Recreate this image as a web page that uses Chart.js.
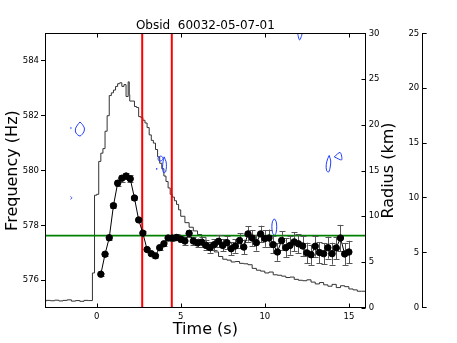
<!DOCTYPE html>
<html><head><meta charset="utf-8">
<script src="https://cdn.jsdelivr.net/npm/chart.js@4/dist/chart.umd.min.js"></script>
<style>html,body{margin:0;padding:0;background:#fff;overflow:hidden}</style>
</head><body>
<canvas id="c" width="457" height="343"></canvas>
<script>
const chartTitle = 'Obsid  60032-05-07-01';
const xTitle = 'Time (s)';
const freqTitle = 'Frequency (Hz)';
const radiusTitle = 'Radius (km)';
const xTicks = [0, 5, 10, 15];
const freqTicks = [576, 578, 580, 582, 584];
const radiusTicks = [0, 5, 10, 15, 20, 25, 30];
const extraTicks = [0, 5, 10, 15, 20, 25];

const freqTime = [0.25,0.5,0.75,1.0,1.25,1.5,1.75,2.0,2.25,2.5,2.75,3.0,3.25,3.5,3.75,4.0,4.25,4.5,4.75,5.0,
  5.25,5.5,5.75,6.0,6.25,6.5,6.75,7.0,7.25,7.5,7.75,8.0,8.25,8.5,8.75,9.0,9.25,9.5,9.75,10.0,
  10.25,10.5,10.75,11.0,11.25,11.5,11.75,12.0,12.25,12.5,12.75,13.0,13.25,13.5,13.75,14.0,14.25,14.5,14.75,15.0];
const freqHz = [576.22,576.95,577.55,578.72,579.54,579.72,579.80,579.70,579.00,578.20,
  577.72,577.12,576.97,576.89,577.19,577.33,577.54,577.54,577.56,577.50,
  577.43,577.71,577.43,577.36,577.39,577.27,577.19,577.30,577.42,577.27,
  577.37,577.15,577.25,577.45,577.21,577.69,577.54,577.37,577.69,577.52,
  577.54,577.30,577.03,577.45,577.19,577.27,577.40,577.33,577.25,577.00,
  576.93,577.24,577.01,576.97,577.19,576.97,577.18,577.54,576.96,577.03];
const freqErr = [0.05,0.06,0.07,0.08,0.10,0.12,0.12,0.12,0.09,0.08,
  0.07,0.06,0.06,0.06,0.07,0.08,0.09,0.10,0.11,0.12,
  0.13,0.14,0.15,0.16,0.17,0.18,0.19,0.20,0.22,0.22,
  0.23,0.24,0.25,0.26,0.27,0.28,0.28,0.29,0.30,0.30,
  0.31,0.32,0.32,0.33,0.34,0.34,0.35,0.35,0.36,0.37,
  0.37,0.38,0.38,0.39,0.40,0.40,0.41,0.48,0.40,0.41];

const lcTime = [-3.25,-3.0,-2.75,-2.5,-2.25,-2.0,-1.75,-1.5,-1.25,-1.0,-0.75,-0.5,-0.25,-0.125,
  0.0,0.125,0.25,0.375,0.5,0.625,0.75,0.875,1.0,1.125,1.25,1.375,1.5,1.625,1.75,1.875,1.94,1.97,
  2.25,2.375,2.5,2.625,2.75,2.875,3.0,3.125,3.25,3.375,3.5,3.625,3.75,3.875,4.0,4.125,4.25,4.375,
  4.5,4.625,4.75,4.875,5.0,5.25,5.5,5.75,6.0,6.25,6.5,6.75,7.0,7.25,7.5,7.75,8.0,8.25,8.5,8.75,
  9.0,9.25,9.5,9.75,10.0,10.25,10.5,10.75,11.0,11.25,11.5,11.75,12.0,12.25,12.5,12.75,13.0,13.25,
  13.5,13.75,14.0,14.25,14.5,14.75,15.0,15.25,15.5,15.75,16.0];
const lcRate = [0.75,0.72,0.80,0.76,0.82,0.74,0.80,0.86,0.72,0.78,0.70,0.80,0.78,3.8,
  12.3,12.4,16.0,16.9,17.4,19.3,21.0,23.2,23.5,23.8,24.2,24.5,24.6,24.2,24.4,23.1,24.7,23.3,
  22.6,22.0,21.9,20.9,20.8,20.5,20.2,19.7,18.9,18.3,18.0,17.3,16.5,15.8,15.2,14.4,13.8,13.1,
  12.4,12.1,11.7,11.3,10.7,10.0,9.3,8.8,8.4,8.0,7.7,7.1,6.6,6.1,5.6,5.3,5.2,5.0,5.05,4.85,
  4.8,4.7,4.3,4.1,4.0,3.8,3.9,3.6,3.55,3.45,3.3,3.35,3.1,3.0,2.95,3.05,2.8,2.6,
  2.75,2.5,2.35,2.55,2.2,2.4,2.3,2.05,1.95,1.8,1.8];

const markerTimes = [2.71, 4.47];
const refFreq = 577.63;
const xRange = [-3.07, 16];
const freqRange = [575, 585];
const radiusRange = [0, 30];
const extraRange = [0, 25];

// blue contours (time, frequency)
const c1T = [-0.99,-0.85,-0.73,-0.76,-0.99,-1.23,-1.26,-1.14,-0.99];
const c1F = [581.77,581.68,581.55,581.41,581.26,581.37,581.52,581.66,581.77];
const c2T = [-1.56,-1.47,-1.56];
const c2F = [579.06,579.00,578.95];
const c3T = [3.65,3.83,3.95,3.83,3.68,3.65];
const c3F = [580.46,580.53,580.44,580.35,580.37,580.46];
const c4T = [4.01,4.13,4.15,4.10,3.98,3.92,3.95,4.01];
const c4F = [580.50,580.32,580.14,579.95,579.92,580.10,580.32,580.50];
const c5T = [11.93,12.22,12.07,11.93];
const c5F = [585.05,585.05,584.76,585.05];
const c6T = [13.83,13.92,13.89,13.80,13.68,13.65,13.74,13.83];
const c6F = [580.55,580.35,580.13,579.95,579.99,580.21,580.43,580.55];
const c7T = [14.13,14.48,14.57,14.13];
const c7F = [580.50,580.66,580.39,580.50];
const c8T = [10.57,10.67,10.71,10.67,10.57,10.46,10.42,10.46,10.57];
const c8F = [578.24,578.15,577.95,577.73,577.64,577.73,577.95,578.15,578.24];
const dotT = [-1.53, 3.57];
const dotF = [581.55, 580.06];

const pts = (xs, ys) => xs.map((v, i) => ({x: v, y: ys[i]}));
const BLUE = '#1f3cff';
const contour = (xs, ys) => ({type:'line', data: pts(xs, ys), yAxisID:'y', borderColor: BLUE, borderWidth: 1,
  pointRadius: 0, tension: 0.3, order: 6, fill: false});

Chart.defaults.font.family = 'DejaVu Sans';
Chart.defaults.color = '#000';
const tickFont = {family:'DejaVu Sans', size: 8.5};
const setTicks = arr => (s => { s.ticks = arr.map(v => ({value: v})); });

const errorBars = {
  id: 'errorBars',
  beforeDatasetDraw(chart, args) {
    if (chart.data.datasets[args.index].label !== 'freq') return;
    const ctx = chart.ctx, xs = chart.scales.x, ys = chart.scales.y, a = chart.chartArea;
    ctx.save();
    ctx.beginPath(); ctx.rect(a.left, a.top, a.right - a.left, a.bottom - a.top); ctx.clip();
    ctx.strokeStyle = '#555'; ctx.lineWidth = 1;
    ctx.beginPath();
    freqTime.forEach((t, i) => {
      const px = Math.round(xs.getPixelForValue(t)) + 0.5;
      const y1 = ys.getPixelForValue(freqHz[i] - freqErr[i]);
      const y2 = ys.getPixelForValue(freqHz[i] + freqErr[i]);
      ctx.moveTo(px, y1); ctx.lineTo(px, y2);
      ctx.moveTo(px - 3, Math.round(y1) + 0.5); ctx.lineTo(px + 3, Math.round(y1) + 0.5);
      ctx.moveTo(px - 3, Math.round(y2) + 0.5); ctx.lineTo(px + 3, Math.round(y2) + 0.5);
    });
    ctx.stroke();
    ctx.restore();
  }
};

const frame = {
  id: 'frame',
  afterDraw(chart) {
    const ctx = chart.ctx, a = chart.chartArea, xs = chart.scales.x, yr = chart.scales.yRad, ye = chart.scales.yExtra;
    ctx.save();
    ctx.strokeStyle = '#000'; ctx.lineWidth = 1;
    ctx.beginPath();
    const L = Math.round(a.left) + 0.5, R = Math.round(a.right) - 0.5, T = Math.round(a.top) + 0.5, B = Math.round(a.bottom) - 0.5;
    ctx.rect(L, T, R - L, B - T);
    xTicks.forEach(v => {
      const px = Math.round(xs.getPixelForValue(v)) + 0.5;
      ctx.moveTo(px, B); ctx.lineTo(px, B - 4);
      ctx.moveTo(px, T); ctx.lineTo(px, T + 4);
    });
    radiusTicks.forEach(v => {
      const py = Math.round(yr.getPixelForValue(v)) + 0.5;
      ctx.moveTo(R, py); ctx.lineTo(R - 4, py);
    });
    ctx.stroke();
    ctx.fillStyle = '#000';
    // far axis labels sit to the left of its spine
    ctx.font = '8.5px "DejaVu Sans"';
    ctx.textAlign = 'right'; ctx.textBaseline = 'middle';
    extraTicks.forEach(v => ctx.fillText(String(v), ye.left - 3.5, ye.getPixelForValue(v)));
    // right-hand title, read bottom to top
    ctx.translate(389, (a.top + a.bottom) / 2);
    ctx.rotate(-Math.PI / 2);
    ctx.font = '16px "DejaVu Sans"';
    ctx.textAlign = 'center'; ctx.textBaseline = 'middle';
    ctx.fillText(yr.options.title.text, 0, 0);
    ctx.restore();
  }
};

new Chart(document.getElementById('c'), {
  type: 'line',
  data: {
    datasets: [
      {label:'freq', data: pts(freqTime, freqHz), yAxisID:'y', borderColor:'#000', borderWidth:1,
        pointRadius:3.2, pointBackgroundColor:'#000', pointBorderColor:'#000', pointBorderWidth:1, tension:0, order:1},
      {label:'ref', data: pts(xRange, [refFreq, refFreq]), yAxisID:'y', borderColor:'#008000', borderWidth:1.8, pointRadius:0, order:2},
      {label:'start', data: pts([markerTimes[0], markerTimes[0]], freqRange), yAxisID:'y', borderColor:'#ff0000', borderWidth:2, pointRadius:0, order:3},
      {label:'end', data: pts([markerTimes[1], markerTimes[1]], freqRange), yAxisID:'y', borderColor:'#ff0000', borderWidth:2, pointRadius:0, order:3},
      contour(c1T, c1F), contour(c2T, c2F), contour(c3T, c3F), contour(c4T, c4F),
      contour(c5T, c5F), contour(c6T, c6F), contour(c7T, c7F), contour(c8T, c8F),
      {type:'scatter', data: pts(dotT, dotF), yAxisID:'y', pointRadius:0.8, pointBackgroundColor:BLUE, pointBorderWidth:0, showLine:false, order:6},
      {label:'lc', data: pts(lcTime, lcRate), yAxisID:'yRad', stepped:'after', borderColor:'#333', borderWidth:1, pointRadius:0, order:10}
    ]
  },
  options: {
    responsive: false, animation: false, devicePixelRatio: 1,
    layout: {padding: 0},
    plugins: {
      legend: {display: false}, tooltip: {enabled: false},
      title: {display: true, fullSize: false, text: chartTitle, color:'#000', font: {family:'DejaVu Sans', size: 12, weight: 'normal'}, padding: {top: 19, bottom: 0}}
    },
    scales: {
      x: {type:'linear', position:'bottom', min: xRange[0], max: xRange[1], afterBuildTicks: setTicks(xTicks),
        ticks: {font: tickFont, color:'#000', padding: 4, maxRotation: 0, autoSkip: false},
        grid: {drawOnChartArea: false, drawTicks: false},
        border: {display: true, color:'#000', width: 1},
        title: {display: true, text: xTitle, color:'#000', font: {family:'DejaVu Sans', size: 16}, padding: {top: 0, bottom: 4}},
        afterFit: s => { s.height = 35.3; }},
      y: {type:'linear', position:'left', min: freqRange[0], max: freqRange[1], afterBuildTicks: setTicks(freqTicks),
        ticks: {font: tickFont, color:'#000', padding: 2},
        grid: {drawOnChartArea: false, drawTicks: true, tickLength: 4, color:'#000'},
        border: {display: true, color:'#000', width: 1},
        title: {display: true, text: freqTitle, color:'#000', font: {family:'DejaVu Sans', size: 16}, padding: {top: 3, bottom: 0}},
        afterFit: s => { s.width = 45; }},
      yRad: {type:'linear', position:'right', min: radiusRange[0], max: radiusRange[1], afterBuildTicks: setTicks(radiusTicks),
        ticks: {font: tickFont, color:'#000', padding: 3},
        grid: {drawOnChartArea: false, drawTicks: false},
        border: {display: true, color:'#000', width: 1},
        title: {display: false, text: radiusTitle},
        afterFit: s => { s.width = 57; }},
      yExtra: {type:'linear', position:'right', min: extraRange[0], max: extraRange[1], afterBuildTicks: setTicks(extraTicks),
        ticks: {display: false},
        grid: {drawOnChartArea: false, drawTicks: true, tickLength: 4, color:'#000'},
        border: {display: true, color:'#000', width: 1},
        afterFit: s => { s.width = 34.3; }}
    }
  },
  plugins: [errorBars, frame]
});
</script>
</body></html>
